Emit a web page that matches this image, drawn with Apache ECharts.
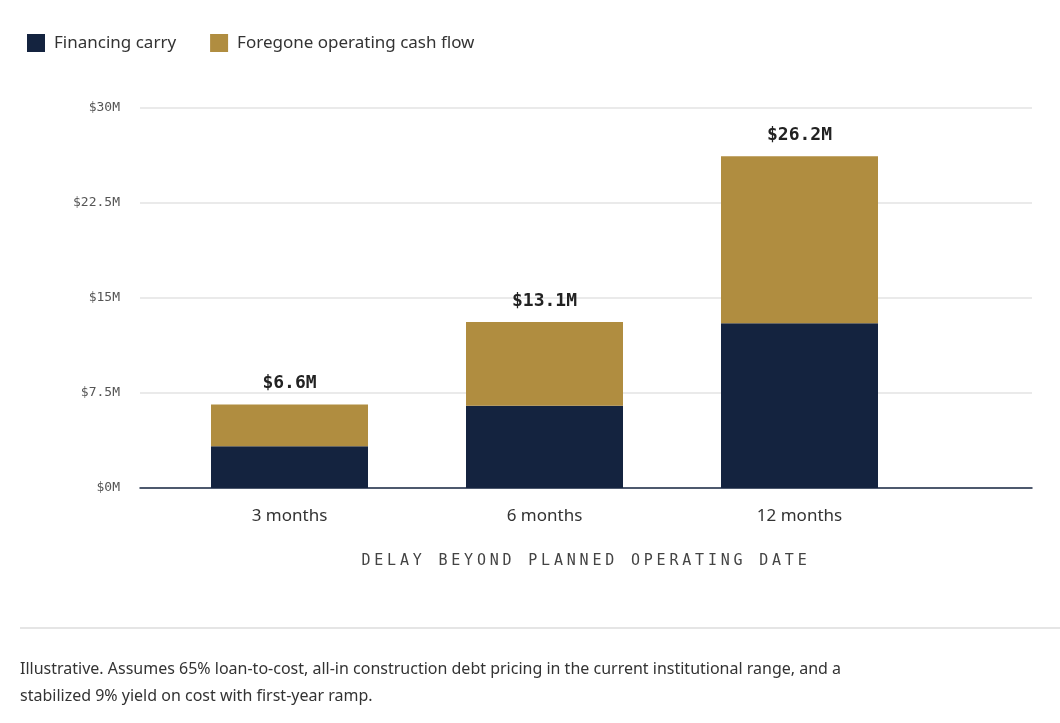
<!DOCTYPE html>
<html>
<head>
<meta charset="utf-8">
<script src="https://cdn.jsdelivr.net/npm/echarts@6/dist/echarts.min.js"></script>
<style>
  html, body { margin: 0; padding: 0; background: #fff; }
  #main { width: 1060px; height: 723px; }
  #xname {
    position: absolute; left: 0; width: 1172px; top: 551px; text-align: center;
    font-family: "DejaVu Sans Mono", monospace; font-size: 15px; letter-spacing: 3.8px; color: #444;
  }
</style>
</head>
<body>
<div id="main"></div>
<div id="xname">DELAY BEYOND PLANNED OPERATING DATE</div>
<script>
var categories = ['3 months', '6 months', '12 months'];
var financingCarry = [3.3, 6.5, 13.0];
var foregoneCash = [3.3, 6.6, 13.2];
var totals = ['$6.6M', '$13.1M', '$26.2M'];
var yTicks = ['$0M', '$7.5M', '$15M', '$22.5M', '$30M'];

var navy = '#14233f', gold = '#b08d40';
var chart = echarts.init(document.getElementById('main'));

chart.setOption({
  animation: false,
  legend: {
    left: 22, top: 29, itemWidth: 18, itemHeight: 18, itemGap: 34, icon: 'rect',
    textStyle: { fontFamily: 'Noto Sans', fontSize: 17, color: '#333', padding: [0, 0, 0, 4] },
    data: ['Financing carry', 'Foregone operating cash flow']
  },
  grid: [
    { left: 140, right: 28, top: 108, height: 380 },
    { left: 162, width: 765, top: 108, height: 380 }
  ],
  xAxis: [
    { gridIndex: 0, type: 'value', min: 0, max: 1, show: true, axisLabel: { show: false },
      splitLine: { show: false }, axisTick: { show: false },
      axisLine: { show: true, onZero: true, lineStyle: { color: '#1b2a45', width: 1.5 } } },
    { gridIndex: 1, type: 'category', data: categories,
      axisLine: { show: false }, axisTick: { show: false },
      axisLabel: { margin: 20, fontFamily: 'Noto Sans', fontSize: 17, color: '#333' } }
  ],
  yAxis: [
    { gridIndex: 0, type: 'value', min: 0, max: 30, interval: 7.5,
      axisLine: { show: false }, axisTick: { show: false },
      splitLine: { lineStyle: { color: '#e3e3e3', width: 1.5 } },
      axisLabel: { margin: 20, fontFamily: 'DejaVu Sans Mono', fontSize: 13, color: '#555',
        formatter: function (v) { return yTicks[Math.round(v / 7.5)]; } } },
    { gridIndex: 1, type: 'value', min: 0, max: 30, interval: 7.5, show: false }
  ],
  series: [
    { name: 'Financing carry', type: 'bar', stack: 't', xAxisIndex: 1, yAxisIndex: 1,
      barWidth: 157, itemStyle: { color: navy }, data: financingCarry },
    { name: 'Foregone operating cash flow', type: 'bar', stack: 't', xAxisIndex: 1, yAxisIndex: 1,
      barWidth: 157, itemStyle: { color: gold }, data: foregoneCash,
      label: { show: true, position: 'top', distance: 12,
        fontFamily: 'DejaVu Sans Mono', fontWeight: 'bold', fontSize: 18, color: '#222',
        formatter: function (p) { return totals[p.dataIndex]; } } }
  ],
  graphic: [
    { type: 'line', shape: { x1: 20, y1: 628, x2: 1060, y2: 628 }, style: { stroke: '#dcdcdc', lineWidth: 1.5 } },
    { type: 'text', left: 20, top: 656, style: {
      text: 'Illustrative. Assumes 65% loan-to-cost, all-in construction debt pricing in the current institutional range, and a\nstabilized 9% yield on cost with first-year ramp.',
      fontFamily: 'Noto Sans', fontSize: 16, lineHeight: 27, fill: '#333' } }
  ]
});
</script>
</body>
</html>
